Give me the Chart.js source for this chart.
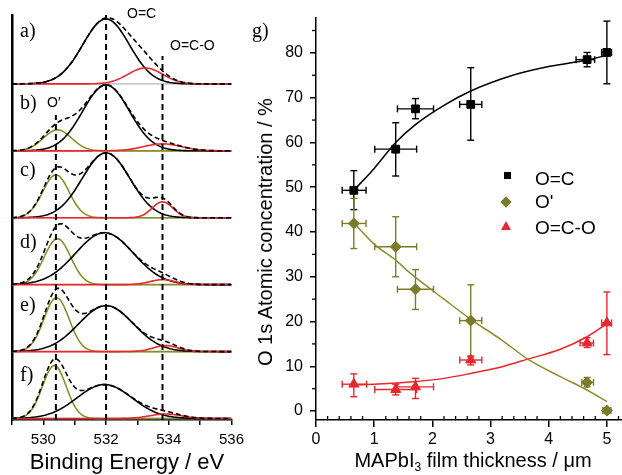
<!DOCTYPE html>
<html><head><meta charset="utf-8">
<script src="https://cdn.jsdelivr.net/npm/chart.js@4.4.1/dist/chart.umd.min.js"></script>
<style>
body{margin:0;background:#fff;width:622px;height:475px;position:relative;overflow:hidden;font-family:"Liberation Sans",Arial,sans-serif;}
canvas{position:absolute;top:0}
.t{position:absolute;white-space:nowrap;line-height:1;color:#000}
.serif{font-family:"Liberation Serif","Times New Roman",serif;font-size:20px}
.ann{font-size:14px}
.leg{font-size:19px}
.mk{position:absolute}
sub{font-size:0.6em;vertical-align:-0.35em;line-height:0}
</style></head><body>
<canvas id="left" width="250" height="475" style="left:0;width:250px;height:475px"></canvas>
<canvas id="right" width="372" height="475" style="left:250px;width:372px;height:475px"></canvas>

<div class="t serif" style="left:20px;top:20px">a)</div>
<div class="t serif" style="left:20px;top:92px">b)</div>
<div class="t serif" style="left:20px;top:159px">c)</div>
<div class="t serif" style="left:20px;top:231px">d)</div>
<div class="t serif" style="left:20px;top:294px">e)</div>
<div class="t serif" style="left:20px;top:364px">f)</div>
<div class="t serif" style="left:252px;top:20px">g)</div>
<div class="t ann" style="left:127px;top:6px">O=C</div>
<div class="t ann" style="left:170px;top:38px">O=C-O</div>
<div class="t ann" style="left:47px;top:95px">O′</div>

<div class="t" style="font-size:22px;left:127px;top:451px;transform:translateX(-50%)">Binding Energy / eV</div>
<div class="t" style="font-size:20px;left:473px;top:450px;transform:translateX(-50%)">MAPbI<sub>3</sub> film thickness / μm</div>
<div class="t" style="font-size:20px;left:265px;top:232px;transform:translate(-50%,-50%) rotate(-90deg)">O 1s Atomic concentration / %</div>

<div class="mk" style="left:504px;top:172px;width:7px;height:7px;background:#000"></div>
<div class="mk" style="left:502px;top:197.5px;width:8px;height:8px;background:#7b7b2a;transform:rotate(45deg)"></div>
<div class="mk" style="left:500.5px;top:221px;width:0;height:0;border-left:5.5px solid transparent;border-right:5.5px solid transparent;border-bottom:9px solid #e8262b"></div>
<div class="t leg" style="left:535px;top:169px">O=C</div>
<div class="t leg" style="left:535px;top:192px">O'</div>
<div class="t leg" style="left:535px;top:218px">O=C-O</div>

<script>
// ---------- Panels a–f : O 1s spectra, fitted peak components ----------
const panelNames = ['a)', 'b)', 'c)', 'd)', 'e)', 'f)'];
const ocCenter  = [532.0, 532.0, 532.0, 531.95, 532.0, 531.95];   // O=C peak position / eV
const ocHeight  = [65, 66, 65, 52, 46, 34];                         // O=C peak height
const ocSigma   = [0.74, 0.74, 0.76, 0.92, 0.87, 0.88];             // O=C peak width
const opCenter  = [530.45, 530.45, 530.4, 530.45, 530.42, 530.35];  // O' peak position / eV
const opHeight  = [0, 21, 43, 46, 54, 53];
const opSigma   = [0.45, 0.45, 0.42, 0.42, 0.40, 0.38];
const ocoCenter = [533.25, 533.8, 533.8, 533.8, 533.9, 533.9];      // O=C-O peak position / eV
const ocoHeight = [16, 7, 16, 5, 6, 4.5];
const ocoSigma  = [0.55, 0.6, 0.33, 0.4, 0.4, 0.5];
const refEnergies = [530.4, 532.0, 533.8];
const refTop      = [304, 404, 363];
const energyTicks = [529, 530, 531, 532, 533, 534, 535, 536];

// ---------- Panel g : atomic concentrations ----------
const thickness = [0.65, 1.37, 1.71, 2.66, 4.66, 5.0];
const ocConc  = [49.3, 58.5, 67.5, 68.5, 78.5, 80.1];
const ocYLo   = [45.0, 52.5, 65.3, 60.5, 76.9, 73.1];
const ocYHi   = [53.7, 64.4, 69.8, 76.7, 80.1, 87.1];
const ocXLo   = [0.45, 1.01, 1.40, 2.47, 4.47, 4.91];
const ocXHi   = [0.86, 1.73, 2.02, 2.85, 4.79, 5.08];
const opConc  = [41.9, 36.7, 27.2, 20.2, 6.4, 0.1];
const opYLo   = [36.3, 30.0, 22.7, 12.1, 5.4, -0.4];
const opYHi   = [47.5, 43.4, 31.6, 28.2, 7.5, 0.6];
const opXLo   = [0.45, 1.01, 1.40, 2.47, 4.57, 4.93];
const opXHi   = [0.86, 1.73, 2.02, 2.85, 4.77, 5.07];
const ocoConc = [6.0, 4.8, 5.4, 11.4, 15.2, 19.7];
const ocoYLo  = [3.2, 3.6, 2.8, 10.3, 14.2, 12.6];
const ocoYHi  = [8.3, 6.0, 7.3, 12.3, 16.4, 26.6];
const ocoXLo  = [0.45, 1.01, 1.40, 2.47, 4.54, 4.91];
const ocoXHi  = [0.87, 1.73, 2.02, 2.85, 4.77, 5.08];
// fitted trend lines
const ocFitX  = [0.65, 1.0, 1.37, 1.72, 2.2, 2.66, 3.33, 4.02, 4.66, 5.0];
const ocFitY  = [49.3, 54.2, 60.0, 64.1, 68.3, 71.5, 74.8, 77.0, 78.4, 79.5];
const opFitX  = [0.65, 1.0, 1.37, 1.62, 2.2, 2.66, 3.2, 3.64, 4.2, 4.66, 5.0];
const opFitY  = [42.0, 37.3, 33.7, 30.8, 25.0, 20.5, 15.8, 11.6, 7.7, 4.7, 2.1];
const ocoFitX = [0.65, 1.0, 1.62, 2.2, 2.66, 3.2, 3.64, 4.2, 4.66, 5.0];
const ocoFitY = [5.8, 6.0, 6.5, 7.3, 8.4, 9.9, 11.6, 13.8, 16.6, 19.5];
const concTicks  = [0, 10, 20, 30, 40, 50, 60, 70, 80];
const concMinor  = [5, 15, 25, 35, 45, 55, 65, 75, 85];
const thickTicks = [0, 1, 2, 3, 4, 5];
const thickMinor = [0.2,0.4,0.6,0.8,1.2,1.4,1.6,1.8,2.2,2.4,2.6,2.8,3.2,3.4,3.6,3.8,4.2,4.4,4.6,4.8,5.2];

const FONT = 'Liberation Sans, Arial, sans-serif';
const OLIVE_LINE = '#8d8d2b', OLIVE = '#7b7b2a', RED = '#e8262b';

// ---------------- left chart ----------------
const eGrid = Array.from({length: 141}, (_, k) => 529 + k * 0.05);
const gauss = (e, c, h, s) => h * Math.exp(-((e - c) ** 2) / (2 * s * s));
const PANEL_STEP = 67;
const lineDs = (data, color, width, order, dash) => ({
  data, showLine: true, borderColor: color, backgroundColor: color, borderWidth: width,
  pointRadius: 0, order, borderDash: dash || [], tension: 0
});
const leftDatasets = [];
panelNames.forEach((name, i) => {
  const base = (panelNames.length - 1 - i) * PANEL_STEP;
  const oc = e => gauss(e, ocCenter[i], ocHeight[i], ocSigma[i]);
  const op = e => gauss(e, opCenter[i], opHeight[i], opSigma[i]);
  const oco = e => gauss(e, ocoCenter[i], ocoHeight[i], ocoSigma[i]);
  leftDatasets.push(lineDs(eGrid.map(e => ({x: e, y: base})), '#b3b3b3', 1.3, 9));
  if (opHeight[i] > 0) leftDatasets.push(lineDs(eGrid.map(e => ({x: e, y: base + op(e)})), OLIVE_LINE, 1.6, 8));
  leftDatasets.push(lineDs(eGrid.map(e => ({x: e, y: base + oc(e)})), '#000', 1.6, 7));
  leftDatasets.push(lineDs(eGrid.map(e => ({x: e, y: base + oco(e)})), RED, 1.6, 6));
  leftDatasets.push(lineDs(eGrid.map(e => ({x: e, y: base + oc(e) + op(e) + oco(e)})), '#000', 1.6, 5, [5, 3]));
});
refEnergies.forEach((e, k) => {
  leftDatasets.push(lineDs([{x: e, y: -1.5}, {x: e, y: refTop[k]}], '#000', 2, 1, [6, 4]));
});

new Chart(document.getElementById('left'), {
  type: 'scatter',
  data: {datasets: leftDatasets},
  options: {
    responsive: false, animation: false, events: [],
    layout: {autoPadding: false, padding: {left: 0, right: 16, top: 15, bottom: 0}},
    plugins: {legend: {display: false}, tooltip: {enabled: false}},
    scales: {
      x: {
        type: 'linear', min: 529, max: 536,
        afterBuildTicks: s => { s.ticks = energyTicks.map(v => ({value: v})); },
        afterFit: s => { s.height = 55; },
        ticks: {autoSkip: false, maxRotation: 0, color: '#000', padding: 6,
                font: {family: FONT, size: 15},
                callback: v => (v % 2 === 0 ? String(v) : '')},
        grid: {display: true, drawOnChartArea: false, drawTicks: true, tickLength: 5, color: '#000', lineWidth: 1.5},
        border: {display: true, color: '#000', width: 1.5}
      },
      y: {
        type: 'linear', min: -1.5, max: 404,
        afterFit: s => { s.width = 12; },
        ticks: {display: false},
        grid: {display: false},
        border: {display: true, color: '#000', width: 2.5}
      }
    }
  }
});

// ---------------- right chart ----------------
const pts = (xs, ys) => xs.map((x, i) => ({x, y: ys[i]}));
const errorBars = {
  id: 'errorBars',
  beforeDatasetsDraw(chart) {
    const {ctx, scales: {x, y}} = chart;
    const seg = (a, b, c, d) => { ctx.beginPath(); ctx.moveTo(a, b); ctx.lineTo(c, d); ctx.stroke(); };
    chart.data.datasets.forEach(ds => {
      if (!ds.err) return;
      ctx.save();
      ctx.strokeStyle = ds.err.color; ctx.lineWidth = 1.4;
      const cap = 3.5;
      ds.data.forEach((p, i) => {
        const px = x.getPixelForValue(p.x), py = y.getPixelForValue(p.y);
        const yl = y.getPixelForValue(ds.err.yLo[i]), yh = y.getPixelForValue(ds.err.yHi[i]);
        const xl = x.getPixelForValue(ds.err.xLo[i]), xh = x.getPixelForValue(ds.err.xHi[i]);
        seg(px, yl, px, yh); seg(px - cap, yl, px + cap, yl); seg(px - cap, yh, px + cap, yh);
        seg(xl, py, xh, py); seg(xl, py - cap, xl, py + cap); seg(xh, py - cap, xh, py + cap);
      });
      ctx.restore();
    });
  }
};
const minorTicks = {
  id: 'minorTicks',
  afterDraw(chart) {
    const {ctx, scales: {x, y}, chartArea} = chart;
    ctx.save(); ctx.strokeStyle = '#000'; ctx.lineWidth = 1.3;
    concMinor.forEach(v => {
      const py = y.getPixelForValue(v);
      ctx.beginPath(); ctx.moveTo(chartArea.left - 4, py); ctx.lineTo(chartArea.left, py); ctx.stroke();
    });
    thickMinor.forEach(v => {
      const px = x.getPixelForValue(v);
      ctx.beginPath(); ctx.moveTo(px, chartArea.bottom); ctx.lineTo(px, chartArea.bottom - 4); ctx.stroke();
    });
    ctx.restore();
  }
};
const fitDs = (xs, ys, color) => ({
  data: pts(xs, ys), showLine: true, borderColor: color, borderWidth: 1.5, pointRadius: 0,
  cubicInterpolationMode: 'monotone', order: 2
});
const markDs = (label, ys, style, color, radius, err) => ({
  label, data: pts(thickness, ys), showLine: false, pointStyle: style, pointRadius: radius,
  backgroundColor: color, borderColor: color, borderWidth: 1, order: 0, err
});

new Chart(document.getElementById('right'), {
  type: 'scatter',
  data: {datasets: [
    fitDs(ocFitX, ocFitY, '#000'),
    fitDs(opFitX, opFitY, OLIVE_LINE),
    fitDs(ocoFitX, ocoFitY, RED),
    markDs('O=C', ocConc, 'rect', '#000', 5.5, {color: '#000', yLo: ocYLo, yHi: ocYHi, xLo: ocXLo, xHi: ocXHi}),
    markDs("O'", opConc, 'rectRot', OLIVE, 5.5, {color: OLIVE, yLo: opYLo, yHi: opYHi, xLo: opXLo, xHi: opXHi}),
    markDs('O=C-O', ocoConc, 'triangle', RED, 5.8, {color: RED, yLo: ocoYLo, yHi: ocoYHi, xLo: ocoXLo, xHi: ocoXHi})
  ]},
  options: {
    responsive: false, animation: false, events: [],
    layout: {autoPadding: false, padding: {left: 0, right: 0, top: 18, bottom: 0}},
    plugins: {legend: {display: false}, tooltip: {enabled: false}},
    scales: {
      x: {
        type: 'linear', min: 0, max: 5.26,
        afterBuildTicks: s => { s.ticks = thickTicks.map(v => ({value: v})); },
        afterFit: s => { s.height = 55; },
        ticks: {autoSkip: false, maxRotation: 0, color: '#000', padding: 3, font: {family: FONT, size: 16}},
        grid: {display: true, drawOnChartArea: false, drawTicks: true, tickLength: 7, color: '#000', lineWidth: 1.5},
        border: {display: true, color: '#000', width: 1.5}
      },
      y: {
        type: 'linear', min: -2, max: 87.8,
        afterBuildTicks: s => { s.ticks = concTicks.map(v => ({value: v})); },
        afterFit: s => { s.width = 66; },
        ticks: {autoSkip: false, color: '#000', padding: 7, font: {family: FONT, size: 16}},
        grid: {display: true, drawOnChartArea: false, drawTicks: true, tickLength: 6, color: '#000', lineWidth: 1.5},
        border: {display: true, color: '#000', width: 1.5}
      }
    }
  },
  plugins: [errorBars, minorTicks]
});
</script>
</body></html>
